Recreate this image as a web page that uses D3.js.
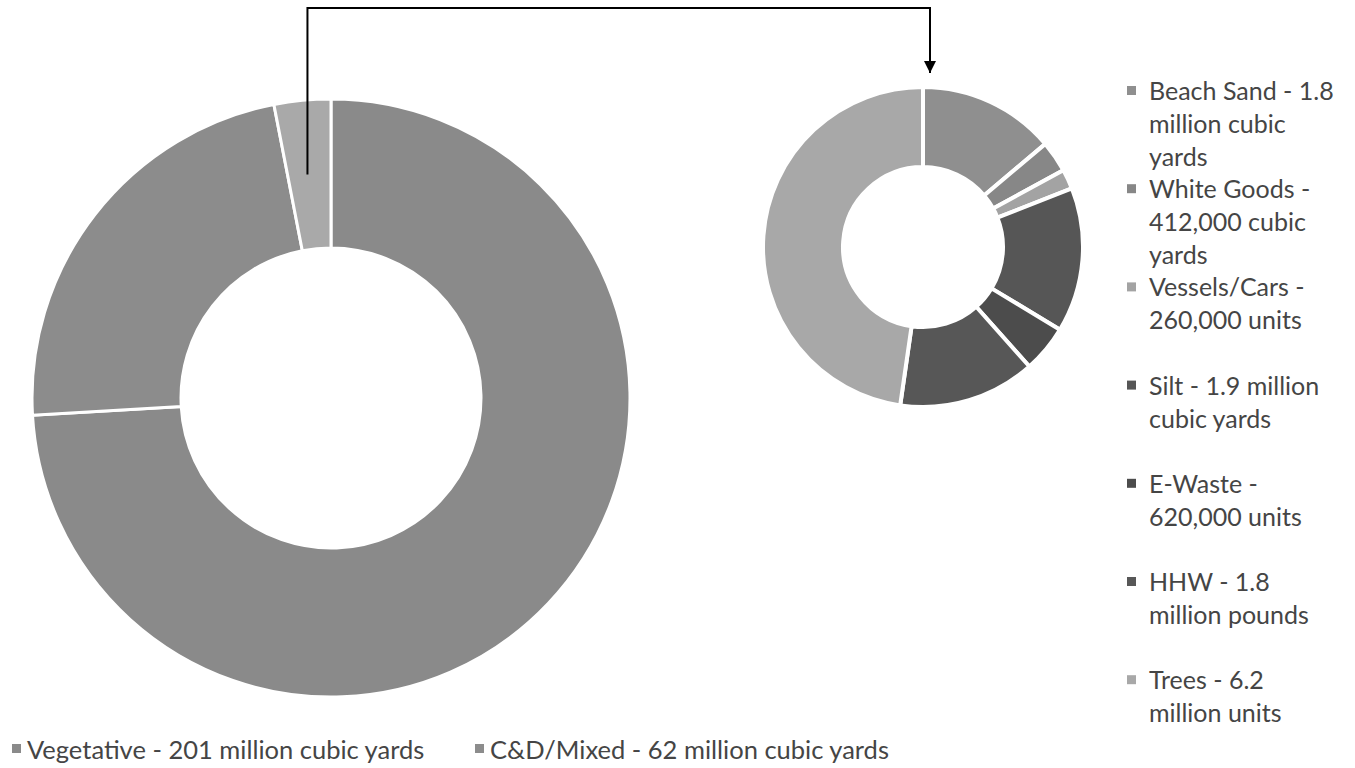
<!DOCTYPE html>
<html>
<head>
<meta charset="utf-8">
<script src="https://cdn.jsdelivr.net/npm/d3@7"></script>
<style>
  html, body { margin: 0; padding: 0; background: #ffffff; }
  svg { display: block; }
  text { font-family: Lato, "Open Sans", sans-serif; fill: #454545; }
</style>
</head>
<body>
<svg id="chart" width="1355" height="768"></svg>
<script>
// ---- data ----
const mainCategories = ["Vegetative - 201 million cubic yards", "C&D/Mixed - 62 million cubic yards", "Other"];
const mainValues = [201, 62, 8.3];
const mainLegendShown = [true, true, false];

const detailCategories = [
  ["Beach Sand - 1.8", "million cubic", "yards"],
  ["White Goods -", "412,000 cubic", "yards"],
  ["Vessels/Cars -", "260,000 units"],
  ["Silt - 1.9 million", "cubic yards"],
  ["E-Waste -", "620,000 units"],
  ["HHW - 1.8", "million pounds"],
  ["Trees - 6.2", "million units"]
];
const detailValues = [1.8, 0.412, 0.26, 1.9, 0.62, 1.8, 6.2];

const mainColors = ["#8a8a8a", "#8c8c8c", "#a9a9a9"];
const detailColors = ["#8f8f8f", "#878787", "#a3a3a3", "#565656", "#4c4c4c", "#575757", "#a8a8a8"];

// ---- layout ----
const svg = d3.select("#chart");
const big = { cx: 331, cy: 398, r0: 150, r1: 299 };
const small = { cx: 923, cy: 247, r0: 80, r1: 160 };

const pie = d3.pie().sort(null).value(d => d);

// big donut
const bigArcs = pie(mainValues);
const bigArc = d3.arc().innerRadius(big.r0).outerRadius(big.r1);
svg.append("g")
  .attr("transform", `translate(${big.cx},${big.cy})`)
  .selectAll("path")
  .data(bigArcs)
  .join("path")
  .attr("d", bigArc)
  .attr("fill", (d, i) => mainColors[i])
  .attr("stroke", "#ffffff")
  .attr("stroke-width", 3);

// small donut
const smallArcs = pie(detailValues);
const smallArc = d3.arc().innerRadius(small.r0).outerRadius(small.r1);
svg.append("g")
  .attr("transform", `translate(${small.cx},${small.cy})`)
  .selectAll("path")
  .data(smallArcs)
  .join("path")
  .attr("d", smallArc)
  .attr("fill", (d, i) => detailColors[i])
  .attr("stroke", "#ffffff")
  .attr("stroke-width", 4);

// connector from "Other" slice to small donut
const other = bigArcs[2];
const mid = d3.arc().innerRadius((big.r0 + big.r1) / 2).outerRadius((big.r0 + big.r1) / 2);
const c = mid.centroid(other);
const sx = big.cx + c[0] - 2, sy = big.cy + c[1];
const topY = 8;
const ex = small.cx + 7, ey = 73;
svg.append("defs").append("marker")
  .attr("id", "arrow")
  .attr("viewBox", "0 0 10 10")
  .attr("refX", 10).attr("refY", 5)
  .attr("markerWidth", 6).attr("markerHeight", 6)
  .attr("markerUnits", "strokeWidth")
  .attr("orient", "auto")
  .append("path").attr("d", "M0,0 L10,5 L0,10 Z").attr("fill", "#000");
svg.append("path")
  .attr("d", `M${sx},${sy} L${sx},${topY} L${ex},${topY} L${ex},${ey}`)
  .attr("fill", "none")
  .attr("stroke", "#000")
  .attr("stroke-width", 2)
  .attr("marker-end", "url(#arrow)");

// right legend
const rl = svg.append("g").attr("transform", "translate(1127,0)");
detailCategories.forEach((lines, i) => {
  const y0 = 90 + i * 98.2;
  rl.append("rect")
    .attr("x", 0).attr("y", y0 - 4).attr("width", 9).attr("height", 9)
    .attr("fill", detailColors[i]);
  const t = rl.append("text")
    .attr("x", 22).attr("y", y0)
    .attr("dominant-baseline", "central")
    .style("font-size", "25px");
  lines.forEach((ln, j) => {
    t.append("tspan").attr("x", 22).attr("dy", j === 0 ? 0 : 33).text(ln);
  });
});

// bottom legend
const bl = svg.append("g");
const bottomX = [12, 475];
mainCategories.forEach((name, i) => {
  if (!mainLegendShown[i]) return;
  bl.append("rect")
    .attr("x", bottomX[i]).attr("y", 744).attr("width", 9).attr("height", 9)
    .attr("fill", mainColors[i]);
  bl.append("text")
    .attr("x", bottomX[i] + 15).attr("y", 749)
    .attr("dominant-baseline", "central")
    .style("font-size", "25.5px")
    .text(name);
});
</script>
</body>
</html>
